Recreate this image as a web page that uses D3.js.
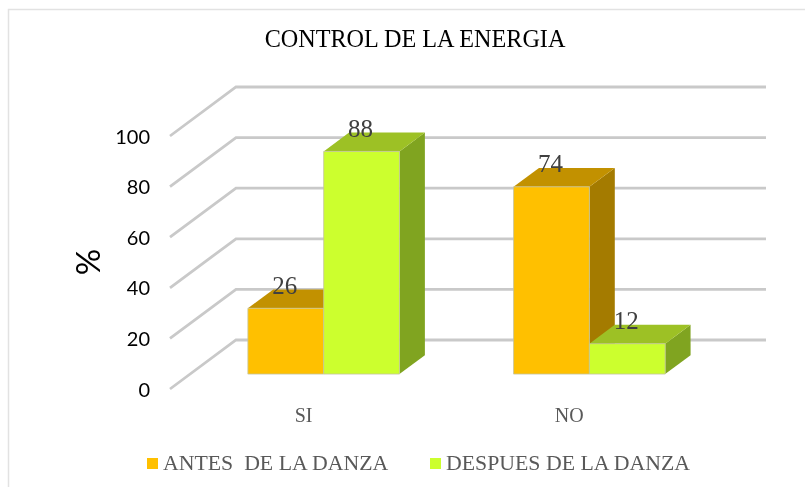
<!DOCTYPE html>
<html><head><meta charset="utf-8">
<script src="https://cdn.jsdelivr.net/npm/d3@7"></script>
<style>
html,body{margin:0;padding:0;background:#fff;overflow:hidden}
svg{display:block;filter:blur(0.55px)}
text{white-space:pre}
</style></head><body><svg id="c" width="805" height="487"></svg>
<script>
const title = "CONTROL DE LA ENERGIA";
const yLabel = "%";
const categories = ["SI", "NO"];
const seriesNames = ["ANTES  DE LA DANZA", "DESPUES DE LA DANZA"];
const antes = [26, 74];
const despues = [88, 12];
const yTicks = [0, 20, 40, 60, 80, 100];
const seriesFront = ["#FFC000", "#CCFF2E"];
const seriesTop = ["#C29100", "#9DC125"];
const seriesSide = ["#A47B00", "#80A420"];

const svg = d3.select("#c");
const serif = "'Liberation Serif', serif";
const sans = "Lato, 'Open Sans', sans-serif";

// frame
svg.append("path").attr("d","M805,9.5H8.5V487").attr("fill","none").attr("stroke","#e2e2e2").attr("stroke-width",1.5);

// scales on the front plane, plus an oblique depth projection
const y = d3.scaleLinear().domain([0,100]).range([389,136]);
const x = d3.scaleBand().domain(categories).range([170.7,702.1]);
const depth = d3.scaleLinear().domain([0,1]).range([0,1]);
const DX = 66, DY = -49;
const px = (xv,d)=>xv+depth(d)*DX;
const py = (v,d)=>y(v)+depth(d)*DY;

// gridlines: wall + back
svg.append("g").selectAll("path").data(yTicks).join("path")
  .attr("d",t=>d3.line()([[px(170,0),py(t,0)],[px(170,1),py(t,1)],[px(700,1),py(t,1)]]))
  .attr("fill","none").attr("stroke","#c9c9c9").attr("stroke-width",2.8);

// bars
const d0 = 0.305, d1 = 0.69;
const barW = 75.8;
const rows = [];
categories.forEach((c,i)=>{
  [antes[i],despues[i]].forEach((v,s)=>rows.push({c,v,s}));
});
const g = svg.append("g");
rows.forEach(r=>{
  const cx = x(r.c)+x.bandwidth()/2;
  const xa = cx+(r.s-1)*barW, xb = xa+barW;
  const poly = pts=>pts.map(p=>p.join(",")).join(" ");
  const stroke = "#c4c4a0";
  g.append("polygon").attr("points",poly([[px(xb,d0),py(r.v,d0)],[px(xb,d1),py(r.v,d1)],[px(xb,d1),py(0,d1)],[px(xb,d0),py(0,d0)]]))
    .attr("fill",seriesSide[r.s]);
  g.append("polygon").attr("points",poly([[px(xa,d0),py(r.v,d0)],[px(xa,d1),py(r.v,d1)],[px(xb,d1),py(r.v,d1)],[px(xb,d0),py(r.v,d0)]]))
    .attr("fill",seriesTop[r.s]);
  g.append("polygon").attr("points",poly([[px(xa,d0),py(r.v,d0)],[px(xb,d0),py(r.v,d0)],[px(xb,d0),py(0,d0)],[px(xa,d0),py(0,d0)]]))
    .attr("fill",seriesFront[r.s]).attr("stroke",stroke).attr("stroke-width",0.8);
});

// value labels
svg.append("g").selectAll("text").data(rows).join("text")
  .attr("x",r=>px(x(r.c)+x.bandwidth()/2+(r.s-0.5)*barW,d0)-1)
  .attr("y",r=>py(r.v,d0)-14.5)
  .attr("text-anchor","middle").attr("font-family",serif).attr("font-size",25).attr("fill","#404040")
  .text(r=>r.v);

// y tick labels
svg.append("g").selectAll("text").data(yTicks).join("text")
  .attr("x",150).attr("y",t=>y(t)+7.5).attr("text-anchor","end")
  .attr("font-family",sans).attr("font-size",20).attr("fill","#000")
  .text(t=>t);

// y title
svg.append("text").attr("transform","translate(100,262) rotate(-90)")
  .attr("text-anchor","middle").attr("font-family",sans).attr("font-size",33).attr("fill","#000").text(yLabel);

// x labels
svg.append("g").selectAll("text").data(categories).join("text")
  .attr("x",c=>x(c)+x.bandwidth()/2).attr("y",422).attr("text-anchor","middle")
  .attr("font-family",serif).attr("font-size",20).attr("fill","#595959").text(c=>c);

// title
svg.append("text").attr("x",415).attr("y",47).attr("text-anchor","middle")
  .attr("font-family",serif).attr("font-size",24.2).attr("fill","#000").text(title);

// legend
const legX = [147,430];
seriesNames.forEach((n,i)=>{
  svg.append("rect").attr("x",legX[i]).attr("y",458).attr("width",11).attr("height",11).attr("fill",seriesFront[i]);
  svg.append("text").attr("x",legX[i]+16).attr("y",470).attr("font-family",serif).attr("font-size",21.8).attr("fill","#595959").text(n);
});
</script></body></html>
